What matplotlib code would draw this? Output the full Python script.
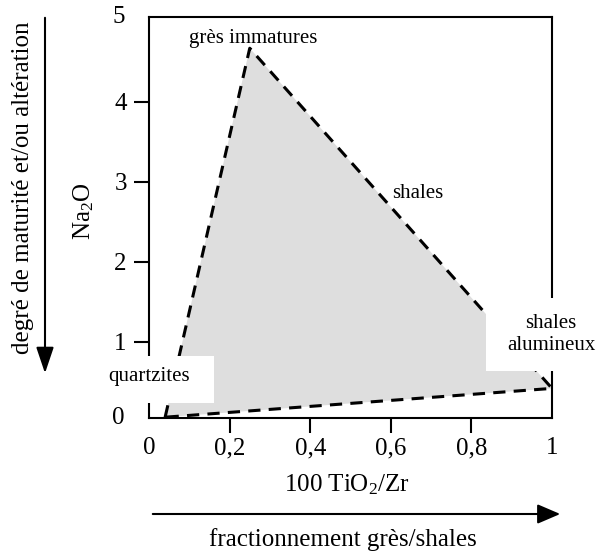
import matplotlib
matplotlib.use('Agg')
import matplotlib.pyplot as plt
from matplotlib.patches import Rectangle, FancyArrowPatch

plt.rcParams['font.family'] = ['Liberation Serif', 'DejaVu Serif']
plt.rcParams['mathtext.fontset'] = 'custom'
plt.rcParams['mathtext.rm'] = 'Liberation Serif'
plt.rcParams['mathtext.it'] = 'Liberation Serif:italic'

# domaine (triangle) : 100 TiO2/Zr en x, Na2O en y
tio2_zr = [0.04, 0.25, 1.0]
na2o = [0.06, 4.67, 0.42]

x_ticks = [0, 0.2, 0.4, 0.6, 0.8, 1]
x_labels = ['0', '0,2', '0,4', '0,6', '0,8', '1']
y_ticks = [1, 2, 3, 4]
y_labels = ['1', '2', '3', '4']

W, H = 597, 555
fig = plt.figure(figsize=(W / 100, H / 100), dpi=100)
ax = fig.add_axes([149 / W, 1 - 418 / H, 403 / W, 401 / H])
ax.set_xlim(0, 1)
ax.set_ylim(0.05, 5.06)

ax.fill(tio2_zr, na2o, color='#dedede', lw=0, zorder=1)
ax.plot(tio2_zr + tio2_zr[:1], na2o + na2o[:1], color='black', lw=2.2,
        linestyle=(0, (4, 2.7)), zorder=2)

for s in ax.spines.values():
    s.set_linewidth(1.5)

ax.set_xticks(x_ticks)
ax.set_xticklabels(x_labels)
ax.set_yticks(y_ticks)
ax.set_yticklabels(y_labels)
ax.tick_params(direction='out', length=11, width=1.5, labelsize=18, pad=5)
ax.tick_params(axis='x', pad=3)
xt = ax.xaxis.get_major_ticks()
xt[0].tick1line.set_visible(False)
xt[-1].tick1line.set_visible(False)

# etiquettes 0 et 5 aux bords du cadre
ax.text(-0.06, 0.0, '0', transform=ax.transAxes, ha='right', va='center', fontsize=18)
ax.text(-0.06, 1.0, '5', transform=ax.transAxes, ha='right', va='center', fontsize=18)

# fonds blancs des etiquettes
ax.add_patch(Rectangle((-0.12, 0.2375), 0.281, 0.5875, facecolor='white',
                       edgecolor='none', clip_on=False, zorder=3))
ax.add_patch(Rectangle((0.836, 0.6375), 0.35, 0.9125, facecolor='white',
                       edgecolor='none', clip_on=False, zorder=3))

ax.text(0.258, 4.79, 'grès immatures', ha='center', va='center', fontsize=15, zorder=4)
ax.text(0.666, 2.86, 'shales', ha='center', va='center', fontsize=15, zorder=4)
ax.text(0.0, 0.5625, 'quartzites', ha='center', va='center', fontsize=15, zorder=4)
ax.text(0.9975, 1.09, 'shales\nalumineux', ha='center', va='center', fontsize=15,
        linespacing=1.2, zorder=4, clip_on=False)

fig.text(84 / W, 1 - 211 / H, 'Na$_2$O', rotation=90, ha='center', va='center', fontsize=18)
fig.text(347 / W, 1 - 485 / H, '100 TiO$_2$/Zr', ha='center', va='center', fontsize=18)
fig.text(343 / W, 1 - 540 / H, 'fractionnement grès/shales', ha='center', va='center', fontsize=18)
fig.text(23 / W, 1 - 188 / H, 'degré de maturité et/ou altération', rotation=90,
         ha='center', va='center', fontsize=18)

# fleches
a1 = FancyArrowPatch((45, H - 15), (45, H - 376), transform=None,
                     arrowstyle='-|>,head_length=0.8,head_width=0.27',
                     mutation_scale=20, color='black', lw=1.5)
a2 = FancyArrowPatch((150, H - 514), (563, H - 514), transform=None,
                     arrowstyle='-|>,head_length=0.7,head_width=0.3',
                     mutation_scale=20, color='black', lw=1.5)
fig.add_artist(a1)
fig.add_artist(a2)

fig.savefig('out.png', dpi=100)
